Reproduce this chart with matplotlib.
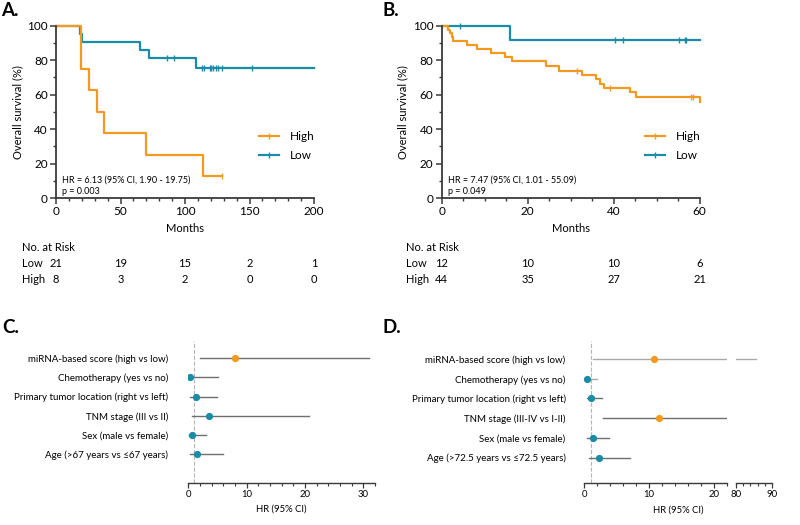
import numpy as np
import matplotlib
matplotlib.use("Agg")
import matplotlib.pyplot as plt
from matplotlib.lines import Line2D
from matplotlib.ticker import MultipleLocator
from matplotlib.transforms import blended_transform_factory

plt.rcParams['font.family'] = ['Lato', 'DejaVu Sans']

ORANGE = '#F39A1E'
TEAL = '#1A8CA6'
AXC = '#3a3a3a'

# ---- Panel A: Kaplan-Meier (months, % survival)
a_low_t = [0, 18.6, 19.9, 65.0, 71.8, 108.5, 200]
a_low_s = [100, 95.2, 90.5, 85.7, 81.0, 75.6, 75.6]
a_low_cens = [86.3, 91.7, 113, 115, 119, 120.4, 122, 123.8, 125.8, 128.4, 152]
a_high_t = [0, 19.5, 25.8, 32.0, 37.4, 69.8, 113.7, 129]
a_high_s = [100, 75, 62.5, 50, 37.5, 25, 12.5, 12.5]
a_high_cens = [129]
a_risk_x = [0, 50, 100, 150, 200]
a_risk_low = [21, 19, 15, 2, 1]
a_risk_high = [8, 3, 2, 0, 0]

# ---- Panel B
b_low_t = [0, 15.9, 60]
b_low_s = [100, 91.7, 91.7]
b_low_cens = [4.3, 40.4, 42.2, 55.3, 56.5, 56.9]
b_high_t = [0, 1.5, 1.9, 2.3, 2.7, 5.9, 8.3, 11.4, 14.7, 16.3, 24.3, 27.3,
            32.6, 35.9, 36.9, 37.7, 43.8, 45.2, 60.0]
b_high_s = [100, 97.7, 95.5, 93.2, 90.9, 88.6, 86.4, 84.1, 81.8, 79.5, 76.6, 73.9,
            71.3, 68.8, 66.4, 63.9, 61.4, 58.9, 55.8]
b_high_cens = [31.5, 39.1, 58.0, 58.5]
b_risk_x = [0, 20, 40, 60]
b_risk_low = [12, 10, 10, 6]
b_risk_high = [44, 35, 27, 21]

# ---- Panel C: forest plot
c_labels = ['miRNA-based score (high vs low)', 'Chemotherapy (yes vs no)',
            'Primary tumor location (right vs left)', 'TNM stage (III vs II)',
            'Sex (male vs female)', 'Age (>67 years vs \u226467 years)']
c_hr = [8.0, 0.29, 1.26, 3.55, 0.69, 1.54]
c_lo = [2.0, 0.05, 0.3, 0.58, 0.2, 0.3]
c_hi = [30.9, 5.1, 4.97, 20.7, 3.0, 6.0]
c_sig = [True, False, False, False, False, False]

# ---- Panel D: forest plot (broken axis)
d_labels = ['miRNA-based score (high vs low)', 'Chemotherapy (yes vs no)',
            'Primary tumor location (right vs left)', 'TNM stage (III-IV vs I-II)',
            'Sex (male vs female)', 'Age (>72.5 years vs \u226472.5 years)']
d_hr = [10.8, 0.37, 1.04, 11.5, 1.35, 2.2]
d_lo = [1.4, 0.05, 0.37, 2.95, 0.46, 0.73]
d_hi = [85.5, 1.9, 2.7, 22.0, 3.85, 7.1]
d_sig = [True, False, False, True, False, False]

W, H = 800, 525
fig = plt.figure(figsize=(W / 100, H / 100), dpi=100)


def box(x0, y0, x1, y1):
    # pixel box (top-left origin) -> figure fraction
    return [x0 / W, 1 - y1 / H, (x1 - x0) / W, (y1 - y0) / H]


def step_at(t, s, x):
    idx = np.searchsorted(t, x, side='right') - 1
    return np.asarray(s)[idx]


def style_axis(ax):
    for side in ['top', 'right']:
        ax.spines[side].set_visible(False)
    for side in ['left', 'bottom']:
        ax.spines[side].set_color(AXC)
        ax.spines[side].set_linewidth(1.3)
    ax.tick_params(which='major', length=4, width=1.1, color=AXC, labelsize=8.5, pad=2)
    ax.tick_params(which='minor', length=2.5, width=1.0, color=AXC)


def km_panel(ax, low, high, xmax, xmaj, xmin, hr, p, risk, x_lab):
    (lt, ls, lc), (ht, hs, hc) = low, high
    ax.step(lt, ls, where='post', color=TEAL, lw=1.6, clip_on=False)
    ax.plot(lc, step_at(lt, ls, lc), ls='none', marker='|', ms=5, mew=1, color=TEAL, clip_on=False)
    ax.step(ht, hs, where='post', color=ORANGE, lw=1.6, clip_on=False)
    ax.plot(hc, step_at(ht, hs, hc), ls='none', marker='|', ms=5, mew=1, color=ORANGE, clip_on=False)
    ax.set_xlim(0, xmax)
    ax.set_ylim(0, 100)
    ax.xaxis.set_major_locator(MultipleLocator(xmaj))
    ax.xaxis.set_minor_locator(MultipleLocator(xmin))
    ax.yaxis.set_major_locator(MultipleLocator(20))
    ax.yaxis.set_minor_locator(MultipleLocator(10))
    style_axis(ax)
    ax.set_ylabel('Overall survival (%)', fontsize=8, labelpad=3)
    handles = [Line2D([0], [0], color=ORANGE, lw=1.6, marker='|', ms=5, mew=1),
               Line2D([0], [0], color=TEAL, lw=1.6, marker='|', ms=5, mew=1)]
    ax.legend(handles, ['High', 'Low'], loc='center left', bbox_to_anchor=(0.787, 0.30),
              frameon=False, fontsize=8.5, handlelength=1.7, handletextpad=0.9,
              labelspacing=0.7, borderpad=0, borderaxespad=0)
    ax.text(0.023, 0.104, hr, transform=ax.transAxes, fontsize=6.5, va='center')
    ax.text(0.023, 0.035, p, transform=ax.transAxes, fontsize=6.5, va='center')

    bt = blended_transform_factory(ax.transAxes, fig.transFigure)
    ax.text(0.5, 1 - 229 / H, 'Months', transform=bt, ha='center', va='center', fontsize=8)
    bl = blended_transform_factory(fig.transFigure, fig.transFigure)
    rx, rlow, rhigh = risk
    ax.text(x_lab / W, 1 - 247.7 / H, 'No. at Risk', transform=bl, va='center', fontsize=8)
    ax.text(x_lab / W, 1 - 263.3 / H, 'Low', transform=bl, va='center', fontsize=8)
    ax.text(x_lab / W, 1 - 279.3 / H, 'High', transform=bl, va='center', fontsize=8)
    bd = blended_transform_factory(ax.transData, fig.transFigure)
    for x, n1, n2 in zip(rx, rlow, rhigh):
        ax.text(x, 1 - 263.3 / H, str(n1), transform=bd, ha='center', va='center', fontsize=8)
        ax.text(x, 1 - 279.3 / H, str(n2), transform=bd, ha='center', va='center', fontsize=8)


ax_a = fig.add_axes(box(56, 25.7, 314, 198))
km_panel(ax_a, (a_low_t, a_low_s, a_low_cens), (a_high_t, a_high_s, a_high_cens),
         200, 50, 10, 'HR = 6.13 (95% CI, 1.90 - 19.75)', 'p = 0.003',
         (a_risk_x, a_risk_low, a_risk_high), 22)

ax_b = fig.add_axes(box(441.7, 25.7, 699.7, 198))
km_panel(ax_b, (b_low_t, b_low_s, b_low_cens), (b_high_t, b_high_s, b_high_cens),
         60, 20, 5, 'HR = 7.47 (95% CI, 1.01 - 55.09)', 'p = 0.049',
         (b_risk_x, b_risk_low, b_risk_high), 406)


def forest(ax, labels, hr, lo, hi, sig, xlim, light=None, show_labels=True, pad=14):
    pos = np.arange(len(labels))[::-1] + 1
    for i, y in enumerate(pos):
        lc = '#a9a9a9' if (light and light[i]) else '#6e6e6e'
        ax.plot([lo[i], hi[i]], [y, y], color=lc, lw=1.0, zorder=2)
        ax.plot(hr[i], y, 'o', ms=4.2, color=ORANGE if sig[i] else TEAL, zorder=3)
    ax.set_xlim(*xlim)
    for side in ['top', 'right', 'left']:
        ax.spines[side].set_visible(False)
    ax.spines['bottom'].set_color(AXC)
    ax.spines['bottom'].set_linewidth(1.0)
    ax.tick_params(axis='x', which='major', length=3.5, width=0.9, color=AXC, labelsize=6.8, pad=2)
    ax.tick_params(axis='x', which='minor', length=2.2, width=0.8, color=AXC)
    ax.xaxis.set_major_locator(MultipleLocator(10))
    ax.xaxis.set_minor_locator(MultipleLocator(2))
    if show_labels:
        ax.set_yticks(pos, labels, fontsize=7)
        ax.tick_params(axis='y', length=0, pad=pad)
    else:
        ax.set_yticks([])


ax_c = fig.add_axes(box(188.3, 341.1, 375, 482.7))
ax_c.axvline(1, color='#b5b5b5', ls='--', lw=0.8, zorder=1)
forest(ax_c, c_labels, c_hr, c_lo, c_hi, c_sig, (0, 32), pad=14.5)
ax_c.set_ylim(-0.5, 6.9)
fig.text(281.7 / W, 1 - 509.3 / H, 'HR (95% CI)', ha='center', va='center', fontsize=6.8)

d_light = [True, True, False, False, False, False]
ax_d1 = fig.add_axes(box(584.3, 341.1, 726.7, 482.7))
ax_d1.axvline(1, color='#b5b5b5', ls='--', lw=0.8, zorder=1)
forest(ax_d1, d_labels, d_hr, d_lo, d_hi, d_sig, (0, 22), light=d_light, pad=13.4)
ax_d1.set_ylim(-0.27, 6.91)
ax_d2 = fig.add_axes(box(735.7, 341.1, 772.3, 482.7))
forest(ax_d2, d_labels, d_hr, d_lo, d_hi, d_sig, (80, 90), light=d_light, show_labels=False)
ax_d2.set_ylim(-0.27, 6.91)
fig.text(678.3 / W, 1 - 510 / H, 'HR (95% CI)', ha='center', va='center', fontsize=6.8)

# panel letters
for lab, x, y in [('A.', 1, 2), ('B.', 383, 2), ('C.', 2, 319), ('D.', 383, 319)]:
    fig.text(x / W, 1 - y / H, lab, fontsize=13.5, fontweight='bold', va='top')

fig.savefig('out.png', dpi=100)
